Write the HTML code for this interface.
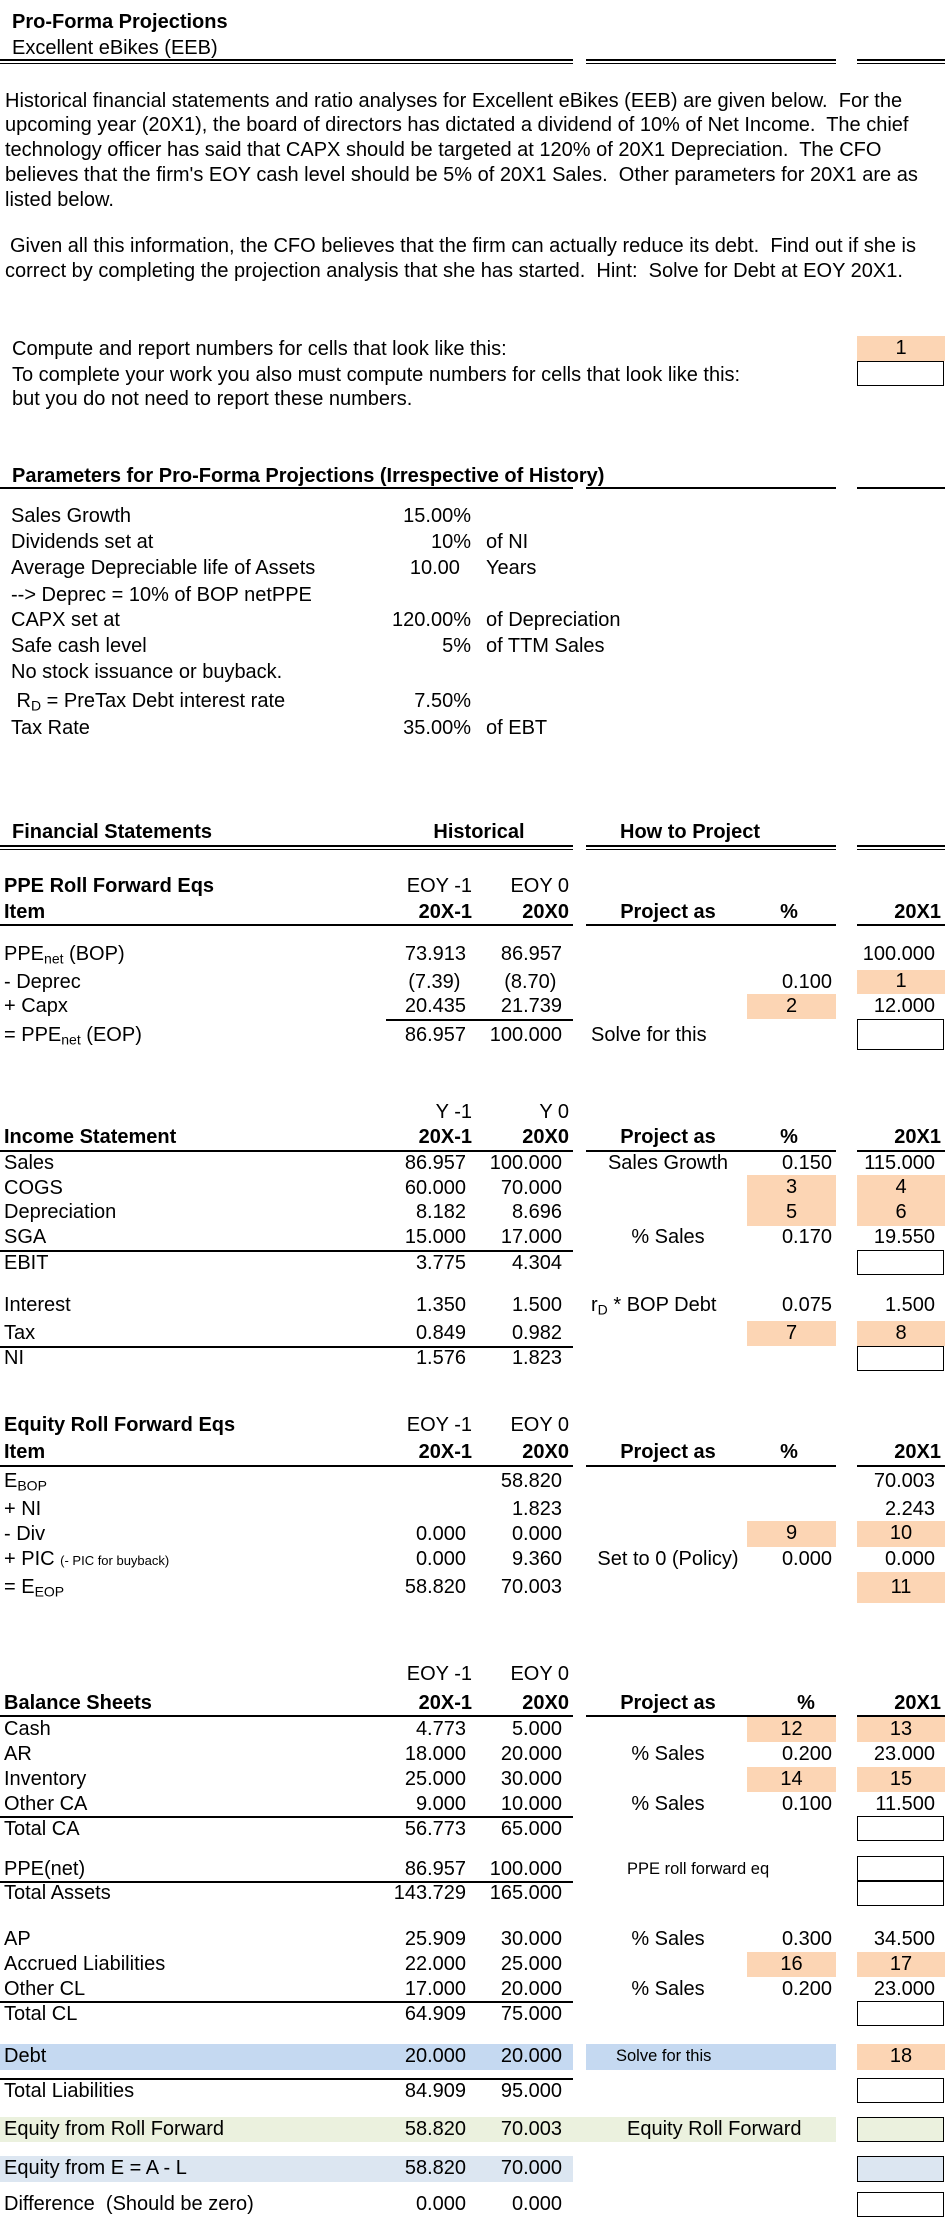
<!DOCTYPE html>
<html><head><meta charset="utf-8">
<style>
html,body{margin:0;padding:0;background:#fff;}
#page{position:relative;width:945px;height:2217px;overflow:hidden;font-family:"Liberation Sans",Arial,sans-serif;color:#000;}
.t{position:absolute;white-space:nowrap;line-height:1;}
.r{position:absolute;}
sub{font-size:0.7em;vertical-align:-0.25em;line-height:0;}
</style></head>
<body>
<div id="page"></div>
<script>
var page=document.getElementById('page');
var X20m1=466, X20x0=562, XPCT=832, X20X1=935, XPROJ=668;
var FS=20;
function T(x,y,html,align,name,opt){
  opt=opt||{};
  var el=document.createElement('div');
  el.className='t';
  var sz=opt.size||FS;
  el.style.fontSize=sz+'px';
  if(opt.bold) el.style.fontWeight='bold';
  el.style.top=(y-sz*0.55)+'px';
  if(align==='r'){el.style.right=(945-x)+'px';}
  else if(align==='c'){el.style.left=(x-200)+'px';el.style.width='400px';el.style.textAlign='center';}
  else el.style.left=x+'px';
  el.innerHTML=html;
  
  
  page.appendChild(el);
  return el;
}
function R(x1,y1,x2,y2,bg,border,name,inter){
  var el=document.createElement('div');
  el.className='r';
  el.style.left=x1+'px';el.style.top=y1+'px';
  el.style.width=(x2-x1)+'px';el.style.height=(y2-y1)+'px';
  if(bg) el.style.background=bg;
  if(border){el.style.border='1.5px solid #000';el.style.boxSizing='border-box';}
  
  
  page.appendChild(el);
  return el;
}
function L(x1,x2,y,h,name){
  var el=document.createElement('div');
  el.className='r';
  el.style.left=x1+'px';el.style.top=y+'px';el.style.width=(x2-x1)+'px';el.style.height=(h||1.5)+'px';el.style.background='#000';
  
  
  page.appendChild(el);
}
var OR='#FCD5B4', BL='#C5D9F1', GR='#EBF1DE', LB='#DCE6F1';
function segLines(y,double,name){
  var segs=[[0,573],[586,836],[857,945]];
  for(var i=0;i<segs.length;i++){
    L(segs[i][0],segs[i][1],y,1.5,name);
    if(double) L(segs[i][0],segs[i][1],y+3.5,1.5,name);
  }
}
function orange(col,y1,y2,label,name){
  var x1=col==='pct'?747:857, x2=col==='pct'?836:945;
  R(x1,y1,x2,y2,OR,false,name,true);
  T((x1+x2)/2,(y1+y2)/2,label,'c',name+'-label');
}
function box(y1,y2,name,bg){
  R(857,y1,944,y2,bg||null,true,name,true);
}

/* Title */
T(12,23,'Pro-Forma Projections','l','title',{bold:true});
T(12,49,'Excellent eBikes (EEB)','l','subtitle');
segLines(59,true,'title-underline');

/* Paragraphs */
var para=['Historical financial statements and ratio analyses for Excellent eBikes (EEB) are given below.&nbsp; For the',
'upcoming year (20X1), the board of directors has dictated a dividend of 10% of Net Income.&nbsp; The chief',
'technology officer has said that CAPX should be targeted at 120% of 20X1 Depreciation.&nbsp; The CFO',
'believes that the firm\'s EOY cash level should be 5% of 20X1 Sales.&nbsp; Other parameters for 20X1 are as',
'listed below.'];
var py=[102,126,151,176,201];
for(var i=0;i<para.length;i++) T(5,py[i],para[i],'l','intro-text-line');
T(10,247,'Given all this information, the CFO believes that the firm can actually reduce its debt.&nbsp; Find out if she is','l','task-text-line');
T(5,272,'correct by completing the projection analysis that she has started.&nbsp; Hint:&nbsp; Solve for Debt at EOY 20X1.','l','task-text-line');

/* Legend */
T(12,350,'Compute and report numbers for cells that look like this:','l','legend-report-text');
T(12,376,'To complete your work you also must compute numbers for cells that look like this:','l','legend-compute-text');
T(12,400,'but you do not need to report these numbers.','l','legend-compute-text-2');
orange('x',336,361,'1','legend-report-cell');
box(361,386,'legend-compute-cell');

/* Parameters */
T(12,477,'Parameters for Pro-Forma Projections (Irrespective of History)','l','parameters-heading',{bold:true});
segLines(487,false,'parameters-underline');
var params=[
 ['Sales Growth','15.00%',''],
 ['Dividends set at','10%','of NI'],
 ['Average Depreciable life of Assets','10.00&nbsp;&nbsp;','Years'],
 ['--&gt; Deprec = 10% of BOP netPPE','',''],
 ['CAPX set at','120.00%','of Depreciation'],
 ['Safe cash level','5%','of TTM Sales'],
 ['No stock issuance or buyback.','',''],
 ['&nbsp;R<sub>D</sub> = PreTax Debt interest rate','7.50%',''],
 ['Tax Rate','35.00%','of EBT']];
var pys=[517,543,569,596,621,647,673,702,729];
for(var i=0;i<params.length;i++){
  T(11,pys[i],params[i][0],'l','parameter-label');
  if(params[i][1]) T(471,pys[i],params[i][1],'r','parameter-value');
  if(params[i][2]) T(486,pys[i],params[i][2],'l','parameter-unit');
}

/* Financial statements heading */
T(12,833,'Financial Statements','l','financial-statements-heading',{bold:true});
T(479,833,'Historical','c','historical-heading',{bold:true});
T(620,833,'How to Project','l','how-to-project-heading',{bold:true});
segLines(845,true,'fs-underline');

function row(y,label,a,b,proj,projAlign,pct,x1,name){
  T(4,y,label,'l',name+'-label');
  if(a!=='') T(X20m1,y,a,'r',name+'-20x-1');
  if(b!=='') T(X20x0,y,b,'r',name+'-20x0');
  if(proj){ if(projAlign==='c') T(XPROJ,y,proj,'c',name+'-method'); else T(591,y,proj,'l',name+'-method'); }
  if(pct!=='') T(XPCT,y,pct,'r',name+'-pct');
  if(x1!=='') T(X20X1,y,x1,'r',name+'-20x1');
}

/* PPE */
T(4,887,'PPE Roll Forward Eqs','l','ppe-title',{bold:true});
T(472,887,'EOY -1','r','col-period-label');
T(569,887,'EOY 0','r','col-period-label');
T(4,913,'Item','l','item-header',{bold:true});
T(472,913,'20X-1','r','col-year-header',{bold:true});
T(569,913,'20X0','r','col-year-header',{bold:true});
T(XPROJ,913,'Project as','c','project-as-header',{bold:true});
T(789,913,'%','c','pct-header',{bold:true});
T(941,913,'20X1','r','col-20x1-header',{bold:true});
segLines(924,false,'ppe-header-line');
orange('x',970,994,'1','answer-cell-1');
orange('pct',994,1019,'2','answer-cell-2');
box(1019,1050,'ppe-eop-20x1-cell');
row(955,'PPE<sub>net</sub> (BOP)','73.913','86.957','','','','100.000','ppe-bop');
row(983,'- Deprec','(7.39)&nbsp;','(8.70)&nbsp;','','','0.100','','ppe-deprec');
row(1007,'+ Capx','20.435','21.739','','','','12.000','ppe-capx');
L(386,573,1019,1.5,'ppe-total-line');
row(1036,'= PPE<sub>net</sub> (EOP)','86.957','100.000','Solve for this','l','','','ppe-eop');

/* Income statement */
T(472,1113,'Y -1','r','col-period-label');
T(569,1113,'Y 0','r','col-period-label');
T(4,1138,'Income Statement','l','income-statement-title',{bold:true});
T(472,1138,'20X-1','r','col-year-header',{bold:true});
T(569,1138,'20X0','r','col-year-header',{bold:true});
T(XPROJ,1138,'Project as','c','project-as-header',{bold:true});
T(789,1138,'%','c','pct-header',{bold:true});
T(941,1138,'20X1','r','col-20x1-header',{bold:true});
segLines(1150,false,'income-header-line');
orange('pct',1175,1200,'3','answer-cell-3');
orange('x',1175,1200,'4','answer-cell-4');
orange('pct',1200,1226,'5','answer-cell-5');
orange('x',1200,1226,'6','answer-cell-6');
box(1250,1275,'ebit-20x1-cell');
orange('pct',1321,1346,'7','answer-cell-7');
orange('x',1321,1346,'8','answer-cell-8');
box(1346,1371,'ni-20x1-cell');
row(1164,'Sales','86.957','100.000','Sales Growth','c','0.150','115.000','sales');
row(1189,'COGS','60.000','70.000','','','','','cogs');
row(1213,'Depreciation','8.182','8.696','','','','','depreciation');
row(1238,'SGA','15.000','17.000','% Sales','c','0.170','19.550','sga');
L(0,573,1250,1.5,'ebit-line');
row(1264,'EBIT','3.775','4.304','','','','','ebit');
row(1306,'Interest','1.350','1.500','r<sub>D</sub> * BOP Debt','l','0.075','1.500','interest');
row(1334,'Tax','0.849','0.982','','','','','tax');
L(0,573,1346,1.5,'ni-line');
row(1359,'NI','1.576','1.823','','','','','ni');

/* Equity */
T(4,1426,'Equity Roll Forward Eqs','l','equity-title',{bold:true});
T(472,1426,'EOY -1','r','col-period-label');
T(569,1426,'EOY 0','r','col-period-label');
T(4,1453,'Item','l','item-header',{bold:true});
T(472,1453,'20X-1','r','col-year-header',{bold:true});
T(569,1453,'20X0','r','col-year-header',{bold:true});
T(XPROJ,1453,'Project as','c','project-as-header',{bold:true});
T(789,1453,'%','c','pct-header',{bold:true});
T(941,1453,'20X1','r','col-20x1-header',{bold:true});
segLines(1465,false,'equity-header-line');
orange('pct',1521,1547,'9','answer-cell-9');
orange('x',1521,1547,'10','answer-cell-10');
orange('x',1572,1603,'11','answer-cell-11');
row(1482,'E<sub>BOP</sub>','','58.820','','','','70.003','equity-bop');
row(1510,'+ NI','','1.823','','','','2.243','equity-ni');
row(1535,'- Div','0.000','0.000','','','','','equity-div');
row(1560,'+ PIC <span style="font-size:13px">(- PIC for buyback)</span>','0.000','9.360','Set to 0 (Policy)','c','0.000','0.000','equity-pic');
row(1588,'= E<sub>EOP</sub>','58.820','70.003','','','','','equity-eop');

/* Balance sheet */
T(472,1675,'EOY -1','r','col-period-label');
T(569,1675,'EOY 0','r','col-period-label');
T(4,1704,'Balance Sheets','l','balance-sheet-title',{bold:true});
T(472,1704,'20X-1','r','col-year-header',{bold:true});
T(569,1704,'20X0','r','col-year-header',{bold:true});
T(XPROJ,1704,'Project as','c','project-as-header',{bold:true});
T(806,1704,'%','c','pct-header',{bold:true});
T(941,1704,'20X1','r','col-20x1-header',{bold:true});
segLines(1715,false,'balance-header-line');
orange('pct',1717,1742,'12','answer-cell-12');
orange('x',1717,1742,'13','answer-cell-13');
orange('pct',1767,1792,'14','answer-cell-14');
orange('x',1767,1792,'15','answer-cell-15');
box(1816,1841,'total-ca-20x1-cell');
box(1856,1881,'ppe-net-20x1-cell');
box(1881,1906,'total-assets-20x1-cell');
orange('pct',1952,1977,'16','answer-cell-16');
orange('x',1952,1977,'17','answer-cell-17');
box(2001,2026,'total-cl-20x1-cell');
R(0,2044,573,2070,BL,false,'debt-band',false);
R(586,2044,836,2070,BL,false,'debt-method-band',false);
orange('x',2044,2070,'18','answer-cell-18');
box(2078,2103,'total-liabilities-20x1-cell');
R(0,2117,836,2142,GR,false,'equity-roll-forward-band',false);
box(2117,2142,'equity-rf-20x1-cell',GR);
R(0,2156,573,2182,LB,false,'equity-a-minus-l-band',false);
box(2156,2182,'equity-a-minus-l-20x1-cell',LB);
box(2192,2217,'difference-20x1-cell');

row(1730,'Cash','4.773','5.000','','','','','cash');
row(1755,'AR','18.000','20.000','% Sales','c','0.200','23.000','ar');
row(1780,'Inventory','25.000','30.000','','','','','inventory');
row(1805,'Other CA','9.000','10.000','% Sales','c','0.100','11.500','other-ca');
L(0,573,1816,1.5,'total-ca-line');
row(1830,'Total CA','56.773','65.000','','','','','total-ca');
row(1870,'PPE(net)','86.957','100.000','','','','','ppe-net');
T(627,1870,'PPE roll forward eq','l','ppe-roll-forward-note',{size:16.5});
L(0,573,1881,1.5,'total-assets-line');
row(1894,'Total Assets','143.729','165.000','','','','','total-assets');
row(1940,'AP','25.909','30.000','% Sales','c','0.300','34.500','ap');
row(1965,'Accrued Liabilities','22.000','25.000','','','','','accrued-liabilities');
row(1990,'Other CL','17.000','20.000','% Sales','c','0.200','23.000','other-cl');
L(0,573,2001,1.5,'total-cl-line');
row(2015,'Total CL','64.909','75.000','','','','','total-cl');
row(2057,'Debt','20.000','20.000','','','','','debt');
T(616,2057,'Solve for this','l','debt-solve-note',{size:16.5});
L(0,573,2078,1.5,'total-liabilities-line');
row(2092,'Total Liabilities','84.909','95.000','','','','','total-liabilities');
row(2130,'Equity from Roll Forward','58.820','70.003','','','','','equity-roll-forward');
T(627,2130,'Equity Roll Forward','l','equity-roll-forward-note');
row(2169,'Equity from E = A - L','58.820','70.000','','','','','equity-a-minus-l');
row(2205,'Difference&nbsp; (Should be zero)','0.000','0.000','','','','','difference');
</script>
</body></html>
